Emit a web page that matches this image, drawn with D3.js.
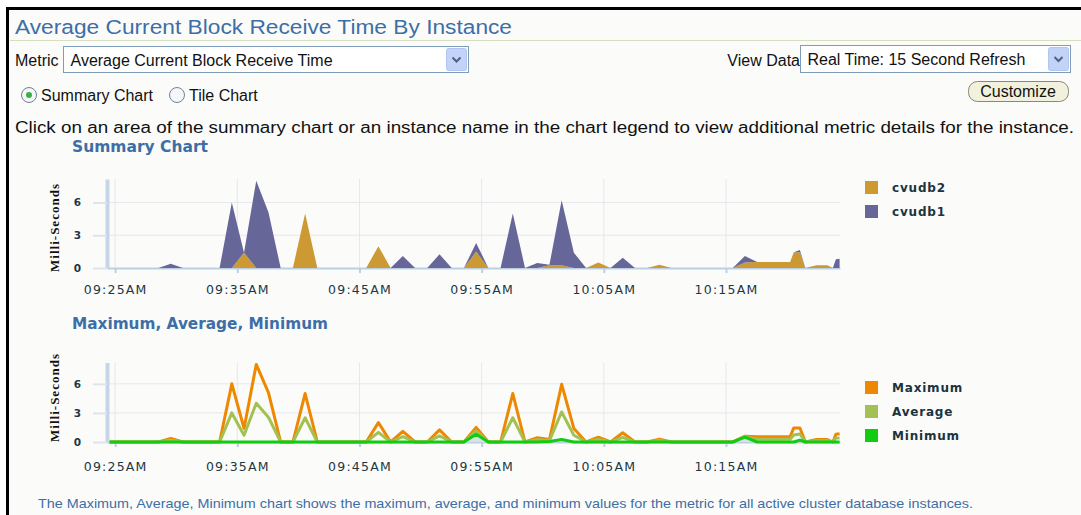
<!DOCTYPE html>
<html>
<head>
<meta charset="utf-8">
<script src="https://cdn.jsdelivr.net/npm/d3@7"></script>
<style>
  body { margin: 0; background: #ffffff; }
  svg { display: block; }
</style>
</head>
<body>
<div id="graph"></div>
<script>
//sample times, real time refresh (about one point a minute)
let times = [
  "09:24:33", "09:25:33", "09:26:33", "09:27:33", "09:28:33", "09:29:33", "09:30:33", "09:31:33",
  "09:32:33", "09:33:33", "09:34:33", "09:35:33", "09:36:33", "09:37:33", "09:38:33", "09:39:33",
  "09:40:33", "09:41:33", "09:42:33", "09:43:33", "09:44:33", "09:45:33", "09:46:33", "09:47:33",
  "09:48:33", "09:49:33", "09:50:33", "09:51:33", "09:52:33", "09:53:33", "09:54:33", "09:55:33",
  "09:56:33", "09:57:33", "09:58:33", "09:59:33", "10:00:33", "10:01:33", "10:02:33", "10:03:33",
  "10:04:33", "10:05:33", "10:06:33", "10:07:33", "10:08:33", "10:09:33", "10:10:33", "10:11:33",
  "10:12:33", "10:13:33", "10:14:33", "10:15:33", "10:16:33", "10:17:33", "10:18:33", "10:19:33",
  "10:20:15", "10:20:33", "10:21:03", "10:21:30", "10:22:24", "10:23:18", "10:23:45", "10:24:00",
  "10:24:18",
];

//milli-seconds per instance
let cvudb1 = [
  0, 0, 0, 0, 0, 0.38, 0, 0,
  0, 0, 6.0, 0, 8.0, 5.1, 0, 0,
  0, 0, 0, 0, 0, 0, 0, 0,
  1.1, 0, 0, 1.25, 0, 0, 0.8, 0,
  0, 5.0, 0, 0.45, 0.05, 5.95, 1.4, 0,
  0, 0, 0.95, 0, 0, 0, 0, 0,
  0, 0, 0, 0, 0.6, 0, 0, 0,
  0, 0, 0.2, 0, 0, 0, 0, 0.8,
  0.85,
];
let cvudb2 = [
  0, 0, 0, 0, 0, 0, 0, 0,
  0, 0, 0, 1.4, 0, 0, 0, 0,
  5.0, 0, 0, 0, 0, 0, 2.0, 0,
  0, 0, 0, 0, 0, 0, 1.5, 0,
  0, 0, 0, 0, 0.25, 0.25, 0, 0,
  0.5, 0, 0, 0, 0, 0.3, 0, 0,
  0, 0, 0, 0, 0.5, 0.55, 0.55, 0.55,
  0.55, 1.45, 1.45, 0, 0.25, 0.25, 0, 0,
  0,
];

let instances = ["cvudb2", "cvudb1"];
let stats = ["Maximum", "Average", "Minimum"];
let tickTimes = ["09:25", "09:35", "09:45", "09:55", "10:05", "10:15"];
let yTicks = [0, 3, 6];

let instanceColors = ["#cc9933", "#666699"];
let statColors = ["#ee8800", "#a3c152", "#11cc11"];

let uiFont = "'Liberation Sans', Arial, sans-serif";
let chartFont = "'DejaVu Sans', Verdana, sans-serif";
let blue = "#3d6ea6";

let parseTime = d3.timeParse("%H:%M:%S");
let parseTick = d3.timeParse("%H:%M");
let tickDates = tickTimes.map(parseTick);

//one row per sample, plus the max / avg / min over the instances
let data = times.map((t, i) => {
  let vals = [cvudb1[i], cvudb2[i]];
  return {
    time: parseTime(t),
    cvudb1: cvudb1[i],
    cvudb2: cvudb2[i],
    Maximum: d3.max(vals),
    Average: d3.mean(vals),
    Minimum: d3.min(vals),
  };
});

let svg = d3
  .select("#graph")
  .append("svg")
  .attr("width", 1081)
  .attr("height", 515);

drawPage(svg);

let x = d3
  .scaleTime()
  .domain([parseTime("09:24:20"), parseTime("10:24:20")])
  .range([107, 840]);

// summary chart, stacked areas
let ySum = d3.scaleLinear().domain([0, 8.15]).range([268, 179]);
let sumG = svg.append("g");
drawAxes(sumG, x, ySum, 26);
let stacked = d3.stack().keys(instances)(data);
sumG
  .append("g")
  .selectAll("path")
  .data(stacked)
  .join("path")
  .attr("fill", (d, i) => instanceColors[i])
  .attr(
    "d",
    d3
      .area()
      .x((d) => x(d.data.time))
      .y0((d) => ySum(d[0]))
      .y1((d) => ySum(d[1]))
  );
addYTitle(svg, 59, 228);
addLegend(svg, instances, instanceColors, 181);

// max / avg / min chart, lines
let yStat = d3.scaleLinear().domain([0, 8.2]).range([442, 362.5]);
let statG = svg.append("g");
drawAxes(statG, x, yStat, 29);
statG
  .append("path")
  .datum(data)
  .attr("fill", "#d9dfeb")
  .attr(
    "d",
    d3
      .area()
      .x((d) => x(d.time))
      .y0(yStat(0))
      .y1((d) => yStat(d.Minimum))
  );
stats.forEach((s, i) => {
  statG
    .append("path")
    .datum(data)
    .attr("fill", "none")
    .attr("stroke", statColors[i])
    .attr("stroke-width", 3)
    .attr("stroke-linejoin", "round")
    .attr(
      "d",
      d3
        .line()
        .x((d) => x(d.time))
        .y((d) => yStat(d[s]))
    );
});
addYTitle(svg, 59, 398);
addLegend(svg, stats, statColors, 381);

//grid, axes and tick labels for one chart
function drawAxes(g, x, y, labelY) {
  let [x0, x1] = x.range();
  let [yb, yt] = y.range();

  g.append("g")
    .selectAll("line")
    .data(yTicks.filter((d) => d > 0))
    .join("line")
    .attr("x1", x0)
    .attr("x2", x1)
    .attr("y1", (d) => y(d))
    .attr("y2", (d) => y(d))
    .attr("stroke", "#e5e8ec");

  g.append("g")
    .selectAll("line")
    .data(tickDates)
    .join("line")
    .attr("x1", (d) => x(d))
    .attr("x2", (d) => x(d))
    .attr("y1", yt)
    .attr("y2", yb)
    .attr("stroke", "#e5e8ec");

  let xAxis = g
    .append("g")
    .attr("transform", "translate(0," + yb + ")")
    .call(
      d3
        .axisBottom(x)
        .tickValues(tickDates)
        .tickFormat(d3.timeFormat("%I:%M%p"))
        .tickSize(5)
        .tickSizeOuter(0)
    );
  xAxis.select(".domain").attr("stroke", "#bccfe2").attr("stroke-width", 2);
  xAxis.selectAll(".tick line").attr("stroke", "#bccfe2").attr("stroke-width", 2);
  xAxis
    .selectAll("text")
    .attr("y", labelY)
    .attr("dy", null)
    .attr("font-family", chartFont)
    .attr("font-size", 12.5)
    .attr("letter-spacing", 1.2)
    .attr("fill", "#1c3746");

  let yAxis = g
    .append("g")
    .attr("transform", "translate(" + x0 + ",0)")
    .call(d3.axisLeft(y).tickValues(yTicks).tickSize(14).tickPadding(12).tickSizeOuter(0));
  yAxis.select(".domain").attr("stroke", "#c6d6e6").attr("stroke-width", 4);
  yAxis.selectAll(".tick line").attr("stroke", "#dde4ec").attr("stroke-width", 2);
  yAxis
    .selectAll("text")
    .attr("font-family", chartFont)
    .attr("font-size", 10.5)
    .attr("font-weight", "bold")
    .attr("fill", "#1c3746");
}

function addYTitle(svg, cx, cy) {
  svg
    .append("text")
    .attr("transform", "translate(" + cx + "," + cy + ") rotate(-90)")
    .attr("text-anchor", "middle")
    .attr("font-family", "'Liberation Serif', 'Times New Roman', serif")
    .attr("font-weight", "bold")
    .attr("font-size", 13)
    .attr("textLength", 88)
    .attr("fill", "#111")
    .text("Milli-Seconds");
}

function addLegend(svg, names, colors, top) {
  let padding = 24,
    size = 13;
  let g = svg.append("g");
  g.selectAll("rect")
    .data(names)
    .join("rect")
    .attr("x", 865)
    .attr("y", (d, i) => top + i * padding)
    .attr("width", size)
    .attr("height", size)
    .attr("fill", (d, i) => colors[i]);
  g.selectAll("text")
    .data(names)
    .join("text")
    .attr("x", 892)
    .attr("y", (d, i) => top + i * padding + 11)
    .attr("font-family", chartFont)
    .attr("font-weight", "bold")
    .attr("font-size", 12)
    .attr("letter-spacing", 0.8)
    .attr("fill", "#1c3340")
    .text((d) => d);
}

//the surrounding page: frame, title, controls and notes
function drawPage(svg) {
  svg.append("rect").attr("x", 6).attr("y", 7).attr("width", 1075).attr("height", 508).attr("fill", "#fbfcfa");
  svg.append("rect").attr("x", 6).attr("y", 7).attr("width", 1075).attr("height", 3).attr("fill", "#000");
  svg.append("rect").attr("x", 6).attr("y", 7).attr("width", 3).attr("height", 508).attr("fill", "#000");

  uiText(svg, "Average Current Block Receive Time By Instance", 15, 34, 20, blue, 497);
  svg.append("line").attr("x1", 10).attr("x2", 1081).attr("y1", 40.5).attr("y2", 40.5).attr("stroke", "#d6dec0");

  uiText(svg, "Metric", 15, 66, 16, "#111");
  selectBox(svg, 63.5, 46.5, 405, 26, "Average Current Block Receive Time");
  uiText(svg, "View Data", 800, 66, 16, "#111").attr("text-anchor", "end");
  selectBox(svg, 800.5, 45.5, 270, 27, "Real Time: 15 Second Refresh");

  //customize button
  svg.append("rect").attr("x", 968.5).attr("y", 81.5).attr("width", 100).attr("height", 20).attr("rx", 9)
    .attr("fill", "#f1f1dd").attr("stroke", "#8a8a70");
  uiText(svg, "Customize", 1018, 97, 16, "#111").attr("text-anchor", "middle");

  //radio buttons
  radio(svg, 29, 95, true);
  uiText(svg, "Summary Chart", 41, 101, 16, "#111");
  radio(svg, 177, 95, false);
  uiText(svg, "Tile Chart", 189, 101, 16, "#111");

  uiText(
    svg,
    "Click on an area of the summary chart or an instance name in the chart legend to view additional metric details for the instance.",
    15, 133, 16, "#111", 1059
  );

  svg.append("text").attr("x", 72).attr("y", 152).attr("font-family", chartFont).attr("font-weight", "bold")
    .attr("font-size", 15).attr("fill", blue).attr("textLength", 136).attr("lengthAdjust", "spacingAndGlyphs")
    .text("Summary Chart");
  svg.append("text").attr("x", 72).attr("y", 329).attr("font-family", chartFont).attr("font-weight", "bold")
    .attr("font-size", 15).attr("fill", blue).attr("textLength", 256).attr("lengthAdjust", "spacingAndGlyphs")
    .text("Maximum, Average, Minimum");

  uiText(
    svg,
    "The Maximum, Average, Minimum chart shows the maximum, average, and minimum values for the metric for all active cluster database instances.",
    38, 508, 13, blue, 935
  );
}

function uiText(svg, str, tx, ty, size, color, len) {
  let t = svg
    .append("text")
    .attr("x", tx)
    .attr("y", ty)
    .attr("font-family", uiFont)
    .attr("font-size", size)
    .attr("fill", color)
    .text(str);
  if (len) t.attr("textLength", len).attr("lengthAdjust", "spacingAndGlyphs");
  return t;
}

function selectBox(svg, bx, by, w, h, label) {
  svg.append("rect").attr("x", bx).attr("y", by).attr("width", w).attr("height", h)
    .attr("fill", "#fff").attr("stroke", "#7f9db9");
  let btnX = bx + w - 22,
    btnY = by + 2;
  svg.append("rect").attr("x", btnX).attr("y", btnY).attr("width", 20).attr("height", h - 4).attr("rx", 2)
    .attr("fill", "#c3d3f7").attr("stroke", "#b2c5f0");
  let cx = btnX + 10,
    cy = btnY + (h - 4) / 2;
  svg.append("path")
    .attr("d", "M" + (cx - 4) + "," + (cy - 2) + " L" + cx + "," + (cy + 2) + " L" + (cx + 4) + "," + (cy - 2))
    .attr("fill", "none").attr("stroke", "#4d6185").attr("stroke-width", 2);
  uiText(svg, label, bx + 7, by + 19, 16, "#111");
}

function radio(svg, cx, cy, checked) {
  svg.append("circle").attr("cx", cx).attr("cy", cy).attr("r", 7.5)
    .attr("fill", "#f4f6f8").attr("stroke", "#6f8396").attr("stroke-width", 1);
  if (checked) {
    svg.append("circle").attr("cx", cx).attr("cy", cy).attr("r", 3).attr("fill", "#3cae4a");
  }
}
</script>
</body>
</html>
